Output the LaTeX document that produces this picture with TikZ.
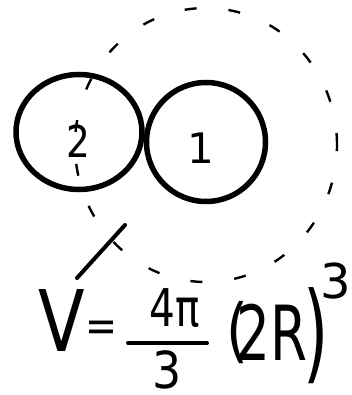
\documentclass[tikz,border=0pt]{standalone}
\usepackage{fontspec}
\setmainfont{DejaVu Sans}
\usetikzlibrary{shapes.geometric}
\begin{document}
\begin{tikzpicture}[x=1pt,y=-1pt,
  ball/.style={draw, ellipse, line width=5.5pt, inner sep=0pt},
  dashring/.style={draw, ellipse, line width=2.4pt, dash pattern=on 12pt off 32pt, inner sep=0pt},
  txt/.style={inner sep=0pt, text=black},
  stroke/.style={line width=4pt, line cap=round}
]
\fill[white] (0,0) rectangle (352,395);
\useasboundingbox (0,0) rectangle (352,395);
\node[dashring, minimum width=262pt, minimum height=274pt] (big) at (206,145) {};
\node[ball, minimum width=126pt, minimum height=115pt] (c2) at (79,132) {};
\node[ball, minimum width=119pt, minimum height=119pt] (c1) at (206,142) {};
\node[txt, font=\fontsize{44}{44}\selectfont, xscale=0.85] (l2) at (78,141) {2};
\node[txt, font=\fontsize{42}{42}\selectfont] (l1) at (201,148) {1};
\coordinate (s1) at (77,278);
\coordinate (s2) at (125,225);
\draw[stroke] (s1) -- (s2);
\node[txt, font=\fontsize{85}{85}\selectfont, xscale=0.8] (V) at (62,321) {V};
\node[txt, font=\fontsize{45}{45}\selectfont, xscale=0.85] (eq) at (102,331) {=};
\node[txt, font=\fontsize{52}{52}\selectfont, xscale=0.78] (num) at (175,308) {4π};
\coordinate (f1) at (128,343);
\coordinate (f2) at (207,343);
\draw[stroke] (f1) -- (f2);
\node[txt, font=\fontsize{51}{51}\selectfont, xscale=0.9] (den) at (167,370) {3};
\node[txt, font=\fontsize{70}{70}\selectfont, xscale=0.8] (lp) at (237,333) {(};
\node[txt, font=\fontsize{76}{76}\selectfont, xscale=0.7] (tr) at (272,332) {2R};
\node[txt, font=\fontsize{108}{108}\selectfont, xscale=0.6] (rp) at (316,336) {)};
\node[txt, font=\fontsize{48}{48}\selectfont] (sup) at (336,281) {3};
\end{tikzpicture}
\end{document}
